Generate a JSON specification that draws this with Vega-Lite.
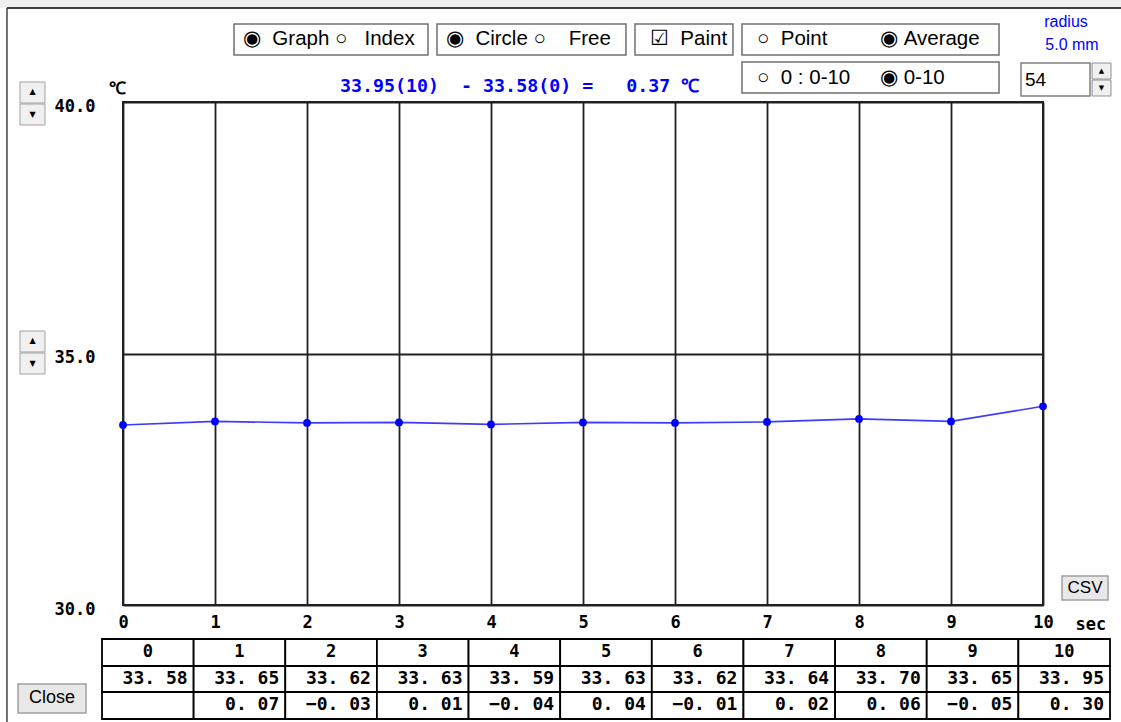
{
  "$schema": "https://vega.github.io/schema/vega-lite/v6.json",
  "width": 920,
  "height": 503,
  "autosize": "none",
  "padding": {"left": 123, "top": 102, "right": 78, "bottom": 117},
  "background": "white",
  "config": {
    "view": {"stroke": "#202020", "strokeWidth": 2},
    "axis": {
      "labelFont": "DejaVu Sans Mono",
      "labelFontWeight": "bold",
      "labelFontSize": 17,
      "labelColor": "#000000",
      "titleFont": "DejaVu Sans Mono",
      "titleFontWeight": "bold",
      "titleFontSize": 17,
      "titleColor": "#000000",
      "ticks": false,
      "domain": false,
      "grid": true,
      "gridColor": "#202020",
      "gridOpacity": 1,
      "gridWidth": 1.8,
      "labelFlush": false,
      "labelOverlap": false
    }
  },
  "datasets": {
    "temps": [
      {"sec": 0, "temp": 33.58, "diff": null},
      {"sec": 1, "temp": 33.65, "diff": 0.07},
      {"sec": 2, "temp": 33.62, "diff": -0.03},
      {"sec": 3, "temp": 33.63, "diff": 0.01},
      {"sec": 4, "temp": 33.59, "diff": -0.04},
      {"sec": 5, "temp": 33.63, "diff": 0.04},
      {"sec": 6, "temp": 33.62, "diff": -0.01},
      {"sec": 7, "temp": 33.64, "diff": 0.02},
      {"sec": 8, "temp": 33.70, "diff": 0.06},
      {"sec": 9, "temp": 33.65, "diff": -0.05},
      {"sec": 10, "temp": 33.95, "diff": 0.30}
    ]
  },
  "resolve": {"scale": {"x": "independent"}, "axis": {"x": "independent"}},
  "layer": [
    {
      "layer": [
        {
          "data": {"name": "temps"},
          "mark": {"type": "line", "color": "#3c3cff", "strokeWidth": 1.6},
          "encoding": {
            "x": {
              "field": "sec", "type": "quantitative",
              "scale": {"domain": [0, 10], "nice": false},
              "axis": {
                "values": [0, 1, 2, 3, 4, 5, 6, 7, 8, 9, 10],
                "format": "d",
                "labelPadding": 9,
                "title": "sec",
                "titleX": 952,
                "titleY": 19,
                "titleAlign": "left",
                "titleBaseline": "middle"
              }
            },
            "y": {
              "field": "temp", "type": "quantitative",
              "scale": {"domain": [30, 40], "nice": false, "zero": false},
              "axis": {
                "values": [30, 35, 40],
                "format": ".1f",
                "labelPadding": 28,
                "labelOffset": 4,
                "title": "℃",
                "titleAngle": 0,
                "titleX": -6,
                "titleY": -14,
                "titleAlign": "center",
                "titleBaseline": "middle"
              }
            }
          }
        },
        {
          "data": {"name": "temps"},
          "mark": {"type": "point", "filled": true, "color": "#0000ff", "size": 60, "opacity": 1},
          "encoding": {
            "x": {"field": "sec", "type": "quantitative"},
            "y": {"field": "temp", "type": "quantitative"}
          }
        },
        {
          "data": {"values": [{}]},
          "mark": {"type": "text", "align": "left", "baseline": "middle", "font": "DejaVu Sans Mono", "fontWeight": "bold", "fontSize": 18.3, "color": "#0000ff"},
          "encoding": {"x": {"datum": 2.359}, "y": {"datum": 40.298}, "text": {"value": "33.95(10)\u00a0\u00a0-\u00a033.58(0)\u00a0=\u00a0\u00a0\u00a00.37\u00a0℃"}}
        },
        {
          "data": {"values": [{}]},
          "mark": {"type": "rect", "fill": "#f0f0f0"},
          "encoding": {"x": {"datum": -1.45}, "x2": {"datum": 10.95}, "y": {"datum": 42.1}, "y2": {"datum": 41.87}}
        },
        {
          "data": {"values": [{}]},
          "mark": {"type": "rule", "color": "#404040", "strokeWidth": 2},
          "encoding": {"x": {"datum": -1.261}, "x2": {"datum": 10.95}, "y": {"datum": 41.87}}
        },
        {
          "data": {"values": [{}]},
          "mark": {"type": "rule", "color": "#404040", "strokeWidth": 1.5},
          "encoding": {"x": {"datum": -1.261}, "y": {"datum": 41.87}, "y2": {"datum": 27.6}}
        },
        {
          "data": {"values": [{}]},
          "mark": {"type": "rect", "fill": "white", "stroke": "#707070", "strokeWidth": 1.5},
          "encoding": {"x": {"datum": 1.207}, "x2": {"datum": 3.315}, "y": {"datum": 41.551}, "y2": {"datum": 40.934}}
        },
        {
          "data": {"values": [{}]},
          "mark": {"type": "rect", "fill": "white", "stroke": "#707070", "strokeWidth": 1.5},
          "encoding": {"x": {"datum": 3.413}, "x2": {"datum": 5.467}, "y": {"datum": 41.551}, "y2": {"datum": 40.934}}
        },
        {
          "data": {"values": [{}]},
          "mark": {"type": "rect", "fill": "white", "stroke": "#707070", "strokeWidth": 1.5},
          "encoding": {"x": {"datum": 5.565}, "x2": {"datum": 6.63}, "y": {"datum": 41.551}, "y2": {"datum": 40.934}}
        },
        {
          "data": {"values": [{}]},
          "mark": {"type": "rect", "fill": "white", "stroke": "#707070", "strokeWidth": 1.5},
          "encoding": {"x": {"datum": 6.728}, "x2": {"datum": 9.522}, "y": {"datum": 41.551}, "y2": {"datum": 40.934}}
        },
        {
          "data": {"values": [{}]},
          "mark": {"type": "rect", "fill": "white", "stroke": "#707070", "strokeWidth": 1.5},
          "encoding": {"x": {"datum": 6.728}, "x2": {"datum": 9.522}, "y": {"datum": 40.795}, "y2": {"datum": 40.179}}
        },
        {
          "data": {"values": [{}]},
          "mark": {"type": "text", "align": "left", "baseline": "middle", "font": "Liberation Sans", "fontSize": 20.5, "color": "#000000"},
          "encoding": {"x": {"datum": 1.304}, "y": {"datum": 41.243}, "text": {"value": "◉\u00a0\u00a0Graph\u00a0○\u00a0\u00a0\u00a0Index"}}
        },
        {
          "data": {"values": [{}]},
          "mark": {"type": "text", "align": "left", "baseline": "middle", "font": "Liberation Sans", "fontSize": 20.5, "color": "#000000"},
          "encoding": {"x": {"datum": 3.511}, "y": {"datum": 41.243}, "text": {"value": "◉\u00a0\u00a0Circle\u00a0○\u00a0\u00a0\u00a0\u00a0Free"}}
        },
        {
          "data": {"values": [{}]},
          "mark": {"type": "text", "align": "left", "baseline": "middle", "font": "Liberation Sans", "fontSize": 20.5, "color": "#000000"},
          "encoding": {"x": {"datum": 5.728}, "y": {"datum": 41.243}, "text": {"value": "☑\u00a0\u00a0Paint"}}
        },
        {
          "data": {"values": [{}]},
          "mark": {"type": "text", "align": "left", "baseline": "middle", "font": "Liberation Sans", "fontSize": 20.5, "color": "#000000"},
          "encoding": {"x": {"datum": 6.891}, "y": {"datum": 41.243}, "text": {"value": "○\u00a0\u00a0Point"}}
        },
        {
          "data": {"values": [{}]},
          "mark": {"type": "text", "align": "left", "baseline": "middle", "font": "Liberation Sans", "fontSize": 20.5, "color": "#000000"},
          "encoding": {"x": {"datum": 8.228}, "y": {"datum": 41.243}, "text": {"value": "◉\u00a0Average"}}
        },
        {
          "data": {"values": [{}]},
          "mark": {"type": "text", "align": "left", "baseline": "middle", "font": "Liberation Sans", "fontSize": 20.5, "color": "#000000"},
          "encoding": {"x": {"datum": 6.891}, "y": {"datum": 40.477}, "text": {"value": "○\u00a0\u00a00 : 0-10"}}
        },
        {
          "data": {"values": [{}]},
          "mark": {"type": "text", "align": "left", "baseline": "middle", "font": "Liberation Sans", "fontSize": 20.5, "color": "#000000"},
          "encoding": {"x": {"datum": 8.228}, "y": {"datum": 40.477}, "text": {"value": "◉\u00a00-10"}}
        },
        {
          "data": {"values": [{}]},
          "mark": {"type": "text", "align": "center", "baseline": "middle", "font": "Liberation Sans", "fontSize": 16, "color": "#0000ff"},
          "encoding": {"x": {"datum": 10.25}, "y": {"datum": 41.59}, "text": {"value": "radius"}}
        },
        {
          "data": {"values": [{}]},
          "mark": {"type": "text", "align": "center", "baseline": "middle", "font": "Liberation Sans", "fontSize": 16, "color": "#0000ff"},
          "encoding": {"x": {"datum": 10.315}, "y": {"datum": 41.133}, "text": {"value": "5.0 mm"}}
        },
        {
          "data": {"values": [{}]},
          "mark": {"type": "rect", "fill": "white", "stroke": "#808080", "strokeWidth": 1.5},
          "encoding": {"x": {"datum": 9.761}, "x2": {"datum": 10.511}, "y": {"datum": 40.775}, "y2": {"datum": 40.119}}
        },
        {
          "data": {"values": [{}]},
          "mark": {"type": "text", "align": "left", "baseline": "middle", "font": "Liberation Sans", "fontSize": 19, "color": "#000000"},
          "encoding": {"x": {"datum": 9.804}, "y": {"datum": 40.437}, "text": {"value": "54"}}
        },
        {
          "data": {"values": [{}]},
          "mark": {"type": "rect", "fill": "#f0f0f0", "stroke": "#909090", "strokeWidth": 1},
          "encoding": {"x": {"datum": 10.533}, "x2": {"datum": 10.739}, "y": {"datum": 40.775}, "y2": {"datum": 40.457}}
        },
        {
          "data": {"values": [{}]},
          "mark": {"type": "rect", "fill": "#f0f0f0", "stroke": "#909090", "strokeWidth": 1},
          "encoding": {"x": {"datum": 10.533}, "x2": {"datum": 10.739}, "y": {"datum": 40.437}, "y2": {"datum": 40.119}}
        },
        {
          "data": {"values": [{}]},
          "mark": {"type": "text", "align": "center", "baseline": "middle", "font": "DejaVu Sans", "fontSize": 7, "color": "#000000"},
          "encoding": {"x": {"datum": 10.636}, "y": {"datum": 40.616}, "text": {"value": "▲"}}
        },
        {
          "data": {"values": [{}]},
          "mark": {"type": "text", "align": "center", "baseline": "middle", "font": "DejaVu Sans", "fontSize": 7, "color": "#000000"},
          "encoding": {"x": {"datum": 10.636}, "y": {"datum": 40.278}, "text": {"value": "▼"}}
        },
        {
          "data": {"values": [{}]},
          "mark": {"type": "rect", "fill": "#f0f0f0", "stroke": "#a0a0a0", "strokeWidth": 1},
          "encoding": {"x": {"datum": -1.12}, "x2": {"datum": -0.848}, "y": {"datum": 40.398}, "y2": {"datum": 39.98}}
        },
        {
          "data": {"values": [{}]},
          "mark": {"type": "rect", "fill": "#f0f0f0", "stroke": "#a0a0a0", "strokeWidth": 1},
          "encoding": {"x": {"datum": -1.12}, "x2": {"datum": -0.848}, "y": {"datum": 39.96}, "y2": {"datum": 39.543}}
        },
        {
          "data": {"values": [{}]},
          "mark": {"type": "rect", "fill": "#f0f0f0", "stroke": "#a0a0a0", "strokeWidth": 1},
          "encoding": {"x": {"datum": -1.12}, "x2": {"datum": -0.848}, "y": {"datum": 35.447}, "y2": {"datum": 35.03}}
        },
        {
          "data": {"values": [{}]},
          "mark": {"type": "rect", "fill": "#f0f0f0", "stroke": "#a0a0a0", "strokeWidth": 1},
          "encoding": {"x": {"datum": -1.12}, "x2": {"datum": -0.848}, "y": {"datum": 35.01}, "y2": {"datum": 34.592}}
        },
        {
          "data": {"values": [{}]},
          "mark": {"type": "text", "align": "center", "baseline": "middle", "font": "DejaVu Sans", "fontSize": 8, "color": "#000000"},
          "encoding": {"x": {"datum": -0.984}, "y": {"datum": 40.189}, "text": {"value": "▲"}}
        },
        {
          "data": {"values": [{}]},
          "mark": {"type": "text", "align": "center", "baseline": "middle", "font": "DejaVu Sans", "fontSize": 8, "color": "#000000"},
          "encoding": {"x": {"datum": -0.984}, "y": {"datum": 39.751}, "text": {"value": "▼"}}
        },
        {
          "data": {"values": [{}]},
          "mark": {"type": "text", "align": "center", "baseline": "middle", "font": "DejaVu Sans", "fontSize": 8, "color": "#000000"},
          "encoding": {"x": {"datum": -0.984}, "y": {"datum": 35.239}, "text": {"value": "▲"}}
        },
        {
          "data": {"values": [{}]},
          "mark": {"type": "text", "align": "center", "baseline": "middle", "font": "DejaVu Sans", "fontSize": 8, "color": "#000000"},
          "encoding": {"x": {"datum": -0.984}, "y": {"datum": 34.801}, "text": {"value": "▼"}}
        },
        {
          "data": {"values": [{}]},
          "mark": {"type": "rect", "fill": "#e8e8e8", "stroke": "#a0a0a0", "strokeWidth": 1.5},
          "encoding": {"x": {"datum": 10.207}, "x2": {"datum": 10.707}, "y": {"datum": 30.577}, "y2": {"datum": 30.099}}
        },
        {
          "data": {"values": [{}]},
          "mark": {"type": "text", "align": "center", "baseline": "middle", "font": "Liberation Sans", "fontSize": 17, "color": "#000000"},
          "encoding": {"x": {"datum": 10.457}, "y": {"datum": 30.338}, "text": {"value": "CSV"}}
        },
        {
          "data": {"values": [{}]},
          "mark": {"type": "rect", "fill": "#e8e8e8", "stroke": "#a0a0a0", "strokeWidth": 1.5},
          "encoding": {"x": {"datum": -1.141}, "x2": {"datum": -0.402}, "y": {"datum": 28.429}, "y2": {"datum": 27.853}}
        },
        {
          "data": {"values": [{}]},
          "mark": {"type": "text", "align": "center", "baseline": "middle", "font": "Liberation Sans", "fontSize": 18, "color": "#000000"},
          "encoding": {"x": {"datum": -0.772}, "y": {"datum": 28.151}, "text": {"value": "Close"}}
        }
      ]
    },
    {
      "data": {"name": "temps"},
      "layer": [
        {
          "mark": {"type": "rect", "fill": "white", "stroke": "#000000", "strokeWidth": 1.8},
          "encoding": {
            "x": {
              "field": "sec", "type": "ordinal",
              "scale": {"type": "band", "domain": [0, 1, 2, 3, 4, 5, 6, 7, 8, 9, 10], "range": [-21, 987], "paddingInner": 0, "paddingOuter": 0},
              "axis": null
            },
            "y": {"datum": 29.324},
            "y2": {"datum": 28.787}
          }
        },
        {
          "mark": {"type": "rect", "fill": "white", "stroke": "#000000", "strokeWidth": 1.8},
          "encoding": {
            "x": {"field": "sec", "type": "ordinal", "axis": null},
            "y": {"datum": 28.787},
            "y2": {"datum": 28.27}
          }
        },
        {
          "mark": {"type": "rect", "fill": "white", "stroke": "#000000", "strokeWidth": 1.8},
          "encoding": {
            "x": {"field": "sec", "type": "ordinal", "axis": null},
            "y": {"datum": 28.27},
            "y2": {"datum": 27.734}
          }
        },
        {
          "mark": {"type": "text", "align": "center", "baseline": "middle", "font": "DejaVu Sans Mono", "fontWeight": "bold", "fontSize": 17, "color": "#000000"},
          "encoding": {
            "x": {"field": "sec", "type": "ordinal", "axis": null},
            "y": {"datum": 29.056},
            "text": {"field": "sec", "type": "ordinal"}
          }
        },
        {
          "mark": {"type": "text", "align": "right", "baseline": "middle", "dx": -6, "font": "DejaVu Sans Mono", "fontWeight": "bold", "fontSize": 18, "color": "#000000"},
          "encoding": {
            "x": {"field": "sec", "type": "ordinal", "bandPosition": 1, "axis": null},
            "y": {"datum": 28.529},
            "text": {"value": {"expr": "replace(format(datum.temp, '.2f'), '.', '. ')"}}
          }
        },
        {
          "transform": [{"filter": "datum.diff != null"}],
          "mark": {"type": "text", "align": "right", "baseline": "middle", "dx": -6, "font": "DejaVu Sans Mono", "fontWeight": "bold", "fontSize": 18, "color": "#000000"},
          "encoding": {
            "x": {"field": "sec", "type": "ordinal", "bandPosition": 1, "axis": null},
            "y": {"datum": 28.002},
            "text": {"value": {"expr": "replace(format(datum.diff, '.2f'), '.', '. ')"}}
          }
        }
      ]
    }
  ]
}
